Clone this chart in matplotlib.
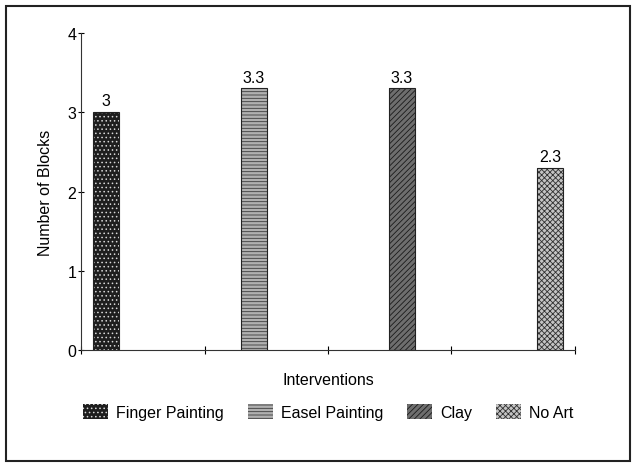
import matplotlib.pyplot as plt
from matplotlib.patches import Rectangle, Patch

plt.rcParams['font.family'] = ['Liberation Sans', 'DejaVu Sans']

# Дані
interventions = ['Finger Painting', 'Easel Painting', 'Clay', 'No Art']
blocks = [3, 3.3, 3.3, 2.3]
value_labels = ['3', '3.3', '3.3', '2.3']
positions = [0.2, 1.4, 2.6, 3.8]

# Стилі заливки
face_colors = ['#1e1e1e', '#b0b0b0', '#6e6e6e', '#c4c4c4']
hatch_colors = ['#d8d8d8', '#3a3a3a', '#1a1a1a', '#303030']
hatches = ['....', '-----', '//////', 'xxxxxx']

fs = 11.5
fig = plt.figure(figsize=(6.36, 4.64), dpi=100)
ax = fig.add_axes([0.1274, 0.2435, 0.904 - 0.1274, 0.9267 - 0.2435])

plt.rcParams['hatch.linewidth'] = 0.6
width = 0.21
for i in range(len(interventions)):
    ax.bar(positions[i], blocks[i], width=width, color=face_colors[i], edgecolor='none', zorder=2)
    ax.bar(positions[i], blocks[i], width=width, color='none', edgecolor=hatch_colors[i],
           hatch=hatches[i], linewidth=0, zorder=3)
    ax.bar(positions[i], blocks[i], width=width, color='none', edgecolor='#222222',
           linewidth=0.8, zorder=4)
    ax.text(positions[i], blocks[i] + 0.05, value_labels[i], ha='center', va='bottom', fontsize=fs)

ax.set_xlim(0, 4)
ax.set_ylim(0, 4)
ax.set_xticks([0, 1, 2, 3, 4])
ax.set_xticklabels([])
ax.set_yticks([0, 1, 2, 3, 4])
ax.tick_params(axis='y', direction='inout', length=5, labelsize=fs, pad=1)
ax.tick_params(axis='x', direction='inout', length=6)
ax.spines['top'].set_visible(False)
ax.spines['right'].set_visible(False)
ax.spines['left'].set_color('#333333')
ax.spines['bottom'].set_color('#333333')
ax.set_ylabel('Number of Blocks', fontsize=fs, labelpad=10)
ax.set_xlabel('Interventions', fontsize=fs, labelpad=9)

handles = []
for i in range(len(interventions)):
    handles.append(Patch(facecolor=face_colors[i], edgecolor=hatch_colors[i], hatch=hatches[i],
                         linewidth=0, label=interventions[i]))
fig.legend(handles=handles, loc='center', bbox_to_anchor=(328 / 636, 1 - 413 / 464), ncol=4,
           frameon=False, fontsize=fs, handlelength=1.56, handleheight=1.1,
           columnspacing=1.5, handletextpad=0.5)

# Рамка навколо рисунка
fig.patches.append(Rectangle((6 / 636, 2 / 464), 624 / 636, 455 / 464, transform=fig.transFigure,
                             fill=False, edgecolor='#222222', linewidth=1.5))

fig.savefig('out.png', dpi=100)
